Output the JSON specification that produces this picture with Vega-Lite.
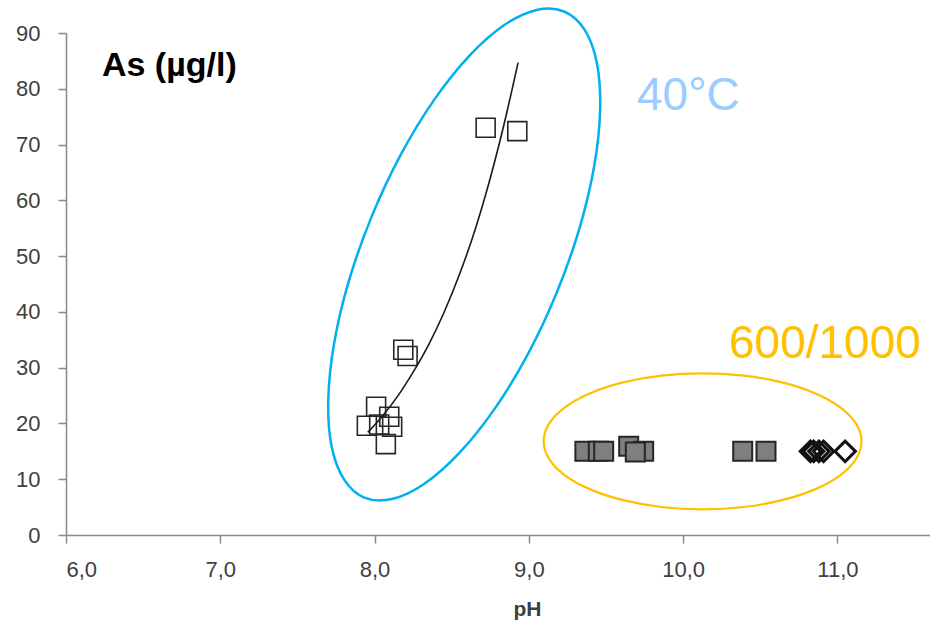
{
  "$schema": "https://vega.github.io/schema/vega-lite/v6.json",
  "width": 864,
  "height": 502,
  "autosize": "none",
  "padding": {"left": 66, "top": 33, "right": 0, "bottom": 88},
  "background": "white",
  "config": {"view": {"stroke": null}, "font": "Liberation Sans"},
  "datasets": {
    "ellipse40": [
      {"i": 0, "pH": 9.228, "As": 93.86}, {"i": 1, "pH": 9.361, "As": 90.61}, {"i": 2, "pH": 9.441, "As": 84.62},
      {"i": 3, "pH": 9.462, "As": 76.28}, {"i": 4, "pH": 9.424, "As": 66.19}, {"i": 5, "pH": 9.328, "As": 54.98},
      {"i": 6, "pH": 9.181, "As": 43.47}, {"i": 7, "pH": 8.994, "As": 32.43}, {"i": 8, "pH": 8.778, "As": 22.61},
      {"i": 9, "pH": 8.548, "As": 14.66}, {"i": 10, "pH": 8.321, "As": 9.14}, {"i": 11, "pH": 8.112, "As": 6.44},
      {"i": 12, "pH": 7.934, "As": 6.70}, {"i": 13, "pH": 7.802, "As": 9.97}, {"i": 14, "pH": 7.721, "As": 15.96},
      {"i": 15, "pH": 7.700, "As": 24.29}, {"i": 16, "pH": 7.738, "As": 34.39}, {"i": 17, "pH": 7.834, "As": 45.59},
      {"i": 18, "pH": 7.981, "As": 57.08}, {"i": 19, "pH": 8.169, "As": 68.14}, {"i": 20, "pH": 8.385, "As": 77.97},
      {"i": 21, "pH": 8.614, "As": 85.91}, {"i": 22, "pH": 8.841, "As": 91.43}, {"i": 23, "pH": 9.051, "As": 94.14}
    ],
    "ellipse600": [
      {"i": 0, "pH": 11.156, "As": 16.80}, {"i": 1, "pH": 11.121, "As": 19.955}, {"i": 2, "pH": 11.018, "As": 22.895},
      {"i": 3, "pH": 10.854, "As": 25.42}, {"i": 4, "pH": 10.641, "As": 27.357}, {"i": 5, "pH": 10.393, "As": 28.575},
      {"i": 6, "pH": 10.126, "As": 28.99}, {"i": 7, "pH": 9.859, "As": 28.575}, {"i": 8, "pH": 9.611, "As": 27.357},
      {"i": 9, "pH": 9.398, "As": 25.42}, {"i": 10, "pH": 9.234, "As": 22.895}, {"i": 11, "pH": 9.131, "As": 19.955},
      {"i": 12, "pH": 9.096, "As": 16.80}, {"i": 13, "pH": 9.131, "As": 13.645}, {"i": 14, "pH": 9.234, "As": 10.705},
      {"i": 15, "pH": 9.398, "As": 8.18}, {"i": 16, "pH": 9.611, "As": 6.243}, {"i": 17, "pH": 9.859, "As": 5.025},
      {"i": 18, "pH": 10.126, "As": 4.61}, {"i": 19, "pH": 10.393, "As": 5.025}, {"i": 20, "pH": 10.641, "As": 6.243},
      {"i": 21, "pH": 10.854, "As": 8.18}, {"i": 22, "pH": 11.018, "As": 10.705}, {"i": 23, "pH": 11.121, "As": 13.645}
    ],
    "fit": [
      {"pH": 7.956, "As": 18.4}, {"pH": 8.05, "As": 21.3}, {"pH": 8.15, "As": 24.9}, {"pH": 8.25, "As": 29.2},
      {"pH": 8.35, "As": 34.1}, {"pH": 8.45, "As": 39.9}, {"pH": 8.55, "As": 46.7}, {"pH": 8.65, "As": 54.6},
      {"pH": 8.75, "As": 64.0}, {"pH": 8.85, "As": 74.9}, {"pH": 8.93, "As": 84.7}
    ],
    "t40": [
      {"pH": 8.72, "As": 73.0}, {"pH": 8.925, "As": 72.4}, {"pH": 8.186, "As": 33.2}, {"pH": 8.214, "As": 32.1},
      {"pH": 8.01, "As": 23.0}, {"pH": 7.95, "As": 19.6}, {"pH": 8.03, "As": 19.8}, {"pH": 8.095, "As": 21.2},
      {"pH": 8.114, "As": 19.4}, {"pH": 8.073, "As": 16.3}
    ],
    "t600": [
      {"pH": 9.363, "As": 15.0}, {"pH": 9.45, "As": 15.0}, {"pH": 9.485, "As": 15.0}, {"pH": 9.647, "As": 15.9},
      {"pH": 9.744, "As": 15.0}, {"pH": 9.69, "As": 14.9}, {"pH": 10.386, "As": 15.0}, {"pH": 10.537, "As": 15.0}
    ],
    "t1000": [
      {"pH": 10.825, "As": 15.0}, {"pH": 10.846, "As": 15.0}, {"pH": 10.88, "As": 15.0}, {"pH": 10.91, "As": 15.0},
      {"pH": 11.05, "As": 15.0}
    ]
  },
  "encoding": {
    "x": {
      "field": "pH", "type": "quantitative",
      "scale": {"domain": [6, 11.6], "nice": false, "zero": false},
      "axis": {
        "title": "pH", "values": [6, 7, 8, 9, 10, 11],
        "labelExpr": "replace(format(datum.value, '.1f'), '.', ',')",
        "grid": false, "domainColor": "#888888", "domainWidth": 1.5,
        "tickColor": "#888888", "tickWidth": 1.5, "tickSize": 8,
        "labelFont": "Liberation Sans", "labelFontSize": 22, "labelColor": "#404040", "labelPadding": 16,
        "titleFont": "Liberation Sans", "titleFontSize": 21, "titleFontWeight": "bold", "titleColor": "#404040",
        "titleX": 461, "titleY": 80, "titleBaseline": "alphabetic"
      }
    },
    "y": {
      "field": "As", "type": "quantitative",
      "scale": {"domain": [0, 90], "nice": false},
      "axis": {
        "title": null, "values": [0, 10, 20, 30, 40, 50, 60, 70, 80, 90],
        "grid": false, "domainColor": "#888888", "domainWidth": 1.5,
        "tickColor": "#888888", "tickWidth": 1.5, "tickSize": 8,
        "labelFont": "Liberation Sans", "labelFontSize": 22, "labelColor": "#404040", "labelPadding": 18
      }
    }
  },
  "layer": [
    {
      "data": {"name": "ellipse40"},
      "mark": {"type": "line", "interpolate": "cardinal-closed", "color": "#00b0f0", "strokeWidth": 2.5, "clip": false},
      "encoding": {"order": {"field": "i", "type": "quantitative"}}
    },
    {
      "data": {"name": "ellipse600"},
      "mark": {"type": "line", "interpolate": "cardinal-closed", "color": "#ffc000", "strokeWidth": 2.2, "clip": false},
      "encoding": {"order": {"field": "i", "type": "quantitative"}}
    },
    {
      "data": {"name": "t40"},
      "mark": {"type": "point", "shape": "square", "filled": false, "size": 361, "stroke": "#262626", "strokeWidth": 1.6, "opacity": 1}
    },
    {
      "data": {"name": "fit"},
      "mark": {"type": "line", "interpolate": "monotone", "color": "#1a1a1a", "strokeWidth": 1.6}
    },
    {
      "data": {"name": "t600"},
      "mark": {"type": "point", "shape": "square", "filled": true, "size": 361, "fill": "#7f7f7f", "stroke": "#262626", "strokeWidth": 2, "opacity": 1}
    },
    {
      "data": {"name": "t1000"},
      "mark": {"type": "point", "shape": "diamond", "filled": false, "size": 420, "stroke": "#111111", "strokeWidth": 3, "opacity": 1}
    },
    {
      "data": {"values": [{"pH": 10.034, "As": 76.2, "label": "40°C"}]},
      "mark": {"type": "text", "align": "center", "baseline": "alphabetic", "font": "Liberation Sans", "fontSize": 46, "color": "#99ccff"},
      "encoding": {"text": {"field": "label"}}
    },
    {
      "data": {"values": [{"pH": 10.919, "As": 31.7, "label": "600/1000"}]},
      "mark": {"type": "text", "align": "center", "baseline": "alphabetic", "font": "Liberation Sans", "fontSize": 46, "color": "#ffc000"},
      "encoding": {"text": {"field": "label"}}
    },
    {
      "data": {"values": [{"pH": 6.233, "As": 82.3, "label": "As (µg/l)"}]},
      "mark": {"type": "text", "align": "left", "baseline": "alphabetic", "font": "Liberation Sans", "fontSize": 34, "fontWeight": "bold", "color": "#000000"},
      "encoding": {"text": {"field": "label"}}
    }
  ]
}
